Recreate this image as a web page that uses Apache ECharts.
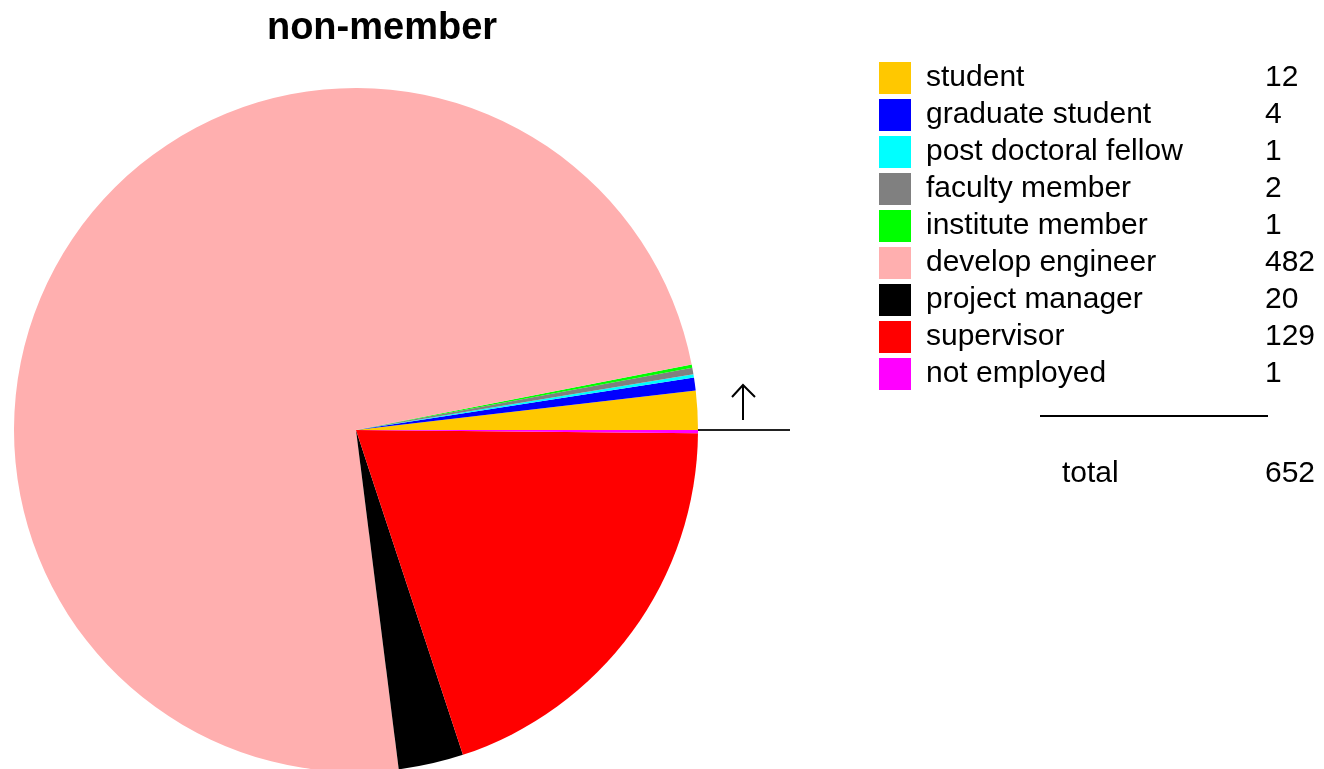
<!DOCTYPE html>
<html>
<head>
<meta charset="utf-8">
<script src="https://cdn.jsdelivr.net/npm/echarts@6/dist/echarts.min.js"></script>
<style>
  html, body { margin: 0; padding: 0; background: #fff; }
  #chart { width: 1324px; height: 769px; }
</style>
</head>
<body>
<div id="chart"></div>
<script>
const categories = [
  "student",
  "graduate student",
  "post doctoral fellow",
  "faculty member",
  "institute member",
  "develop engineer",
  "project manager",
  "supervisor",
  "not employed",
];
const counts = [12, 4, 1, 2, 1, 482, 20, 129, 1];
const colors = [
  "#ffc800", "#0000ff", "#00ffff", "#808080", "#00ff00",
  "#ffafaf", "#000000", "#ff0000", "#ff00ff",
];
const title = "non-member";

const total = counts.reduce((a, b) => a + b, 0);
const font = "'Liberation Sans', Arial, sans-serif";

const chart = echarts.init(document.getElementById("chart"));

chart.setOption({
  backgroundColor: "#fff",
  animation: false,
  color: colors,
  title: {
    text: title,
    left: 377,
    top: 5,
    textAlign: "center",
    textStyle: { fontFamily: font, fontSize: 38, fontWeight: "bold", color: "#000" },
  },
  legend: {
    orient: "vertical",
    left: 874,
    top: 57,
    itemWidth: 32,
    itemHeight: 32,
    itemGap: 5,
    icon: "rect",
    selectedMode: false,
    data: categories,
    formatter: (name) => `{n|${name}}{v|${counts[categories.indexOf(name)]}}`,
    textStyle: {
      fontFamily: font,
      fontSize: 30,
      color: "#000",
      rich: {
        n: { fontFamily: font, fontSize: 30, width: 339, padding: [0, 0, 0, 10] },
        v: { fontFamily: font, fontSize: 30 },
      },
    },
  },
  graphic: [
    {
      type: "line",
      shape: { x1: 1040, y1: 416, x2: 1268, y2: 416 },
      style: { stroke: "#000", lineWidth: 2 },
    },
    {
      type: "text",
      left: 1062,
      top: 459,
      style: { text: "total", font: `30px ${font}`, fill: "#000" },
    },
    {
      type: "text",
      left: 1265,
      top: 459,
      style: { text: String(total), font: `30px ${font}`, fill: "#000" },
    },
    {
      type: "line",
      shape: { x1: 697, y1: 430, x2: 790, y2: 430 },
      style: { stroke: "#222", lineWidth: 2 },
    },
    {
      type: "line",
      shape: { x1: 743, y1: 420, x2: 743, y2: 385 },
      style: { stroke: "#000", lineWidth: 2 },
    },
    {
      type: "polyline",
      shape: { points: [[732, 397], [743, 385], [755, 397]] },
      style: { stroke: "#000", lineWidth: 2, fill: null },
    },
  ],
  series: [
    {
      type: "pie",
      center: [356, 430],
      radius: 342,
      startAngle: 0,
      clockwise: false,
      avoidLabelOverlap: false,
      label: { show: false },
      labelLine: { show: false },
      emphasis: { disabled: true },
      itemStyle: { borderWidth: 0 },
      data: categories.map((name, i) => ({ name, value: counts[i] })),
    },
  ],
});
</script>
</body>
</html>
